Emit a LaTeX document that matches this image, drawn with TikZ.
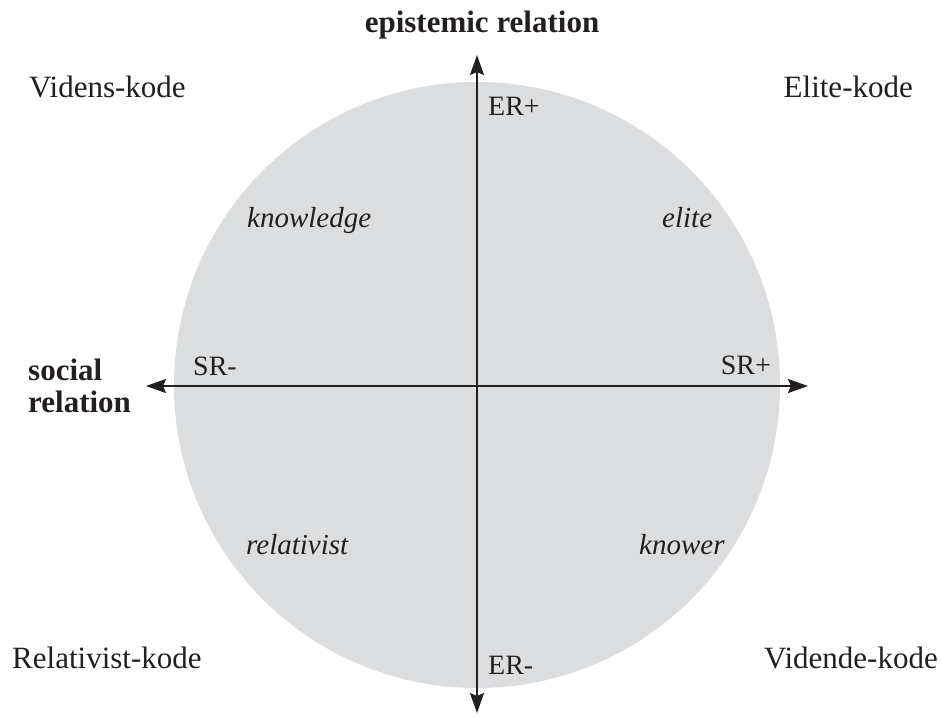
\documentclass[tikz,border=0pt]{standalone}
\usepackage{fontspec}
\setmainfont{Liberation Serif}
\usetikzlibrary{arrows.meta}
\definecolor{discgray}{RGB}{220,221,223}
\definecolor{ink}{RGB}{35,31,32}
\begin{document}
\begin{tikzpicture}[x=1pt,y=-1pt,
  lbl/.style={inner sep=0pt, text=ink, font=\fontsize{31}{36}\selectfont},
  albl/.style={lbl, font=\fontsize{28}{33}\selectfont},
  blbl/.style={lbl, font=\fontsize{31}{36}\selectfont\bfseries},
  ilbl/.style={lbl, font=\fontsize{29}{34}\selectfont\itshape},
  axis/.style={draw=ink, line width=1.8pt, {Stealth[length=20pt,width=14pt,inset=3pt]}-{Stealth[length=20pt,width=14pt,inset=3pt]}}]
\useasboundingbox (0,0) rectangle (941,716);
\node[circle, fill=discgray, minimum size=606pt, inner sep=0pt] (disc) at (477,385) {};
\coordinate (top) at (477,55);
\coordinate (bottom) at (477,713);
\coordinate (left) at (146,386);
\coordinate (right) at (808,386);
\draw[axis] (bottom) -- (top);
\draw[axis] (left) -- (right);
\node[blbl, anchor=base] (er) at (482,32) {epistemic relation};
\node[blbl, anchor=base west] (soc) at (28,380) {social};
\node[blbl, anchor=base west] (rel) at (28,412) {relation};
\node[lbl, anchor=base west] (vk) at (29,97) {Videns-kode};
\node[lbl, anchor=base east] (ek) at (913,97) {Elite-kode};
\node[lbl, anchor=base west] (rk) at (12,668) {Relativist-kode};
\node[lbl, anchor=base east] (dk) at (938,668) {Vidende-kode};
\node[albl, anchor=base west] (erp) at (488,115) {ER+};
\node[albl, anchor=base west] (erm) at (488,674) {ER-};
\node[albl, anchor=base west] (srm) at (193,375) {SR-};
\node[albl, anchor=base east] (srp) at (771,374) {SR+};
\node[ilbl, anchor=base west] (kn) at (247,227) {knowledge};
\node[ilbl, anchor=base west] (el) at (662,227) {elite};
\node[ilbl, anchor=base west] (ra) at (246,554) {relativist};
\node[ilbl, anchor=base west] (kw) at (639,554) {knower};
\end{tikzpicture}
\end{document}
